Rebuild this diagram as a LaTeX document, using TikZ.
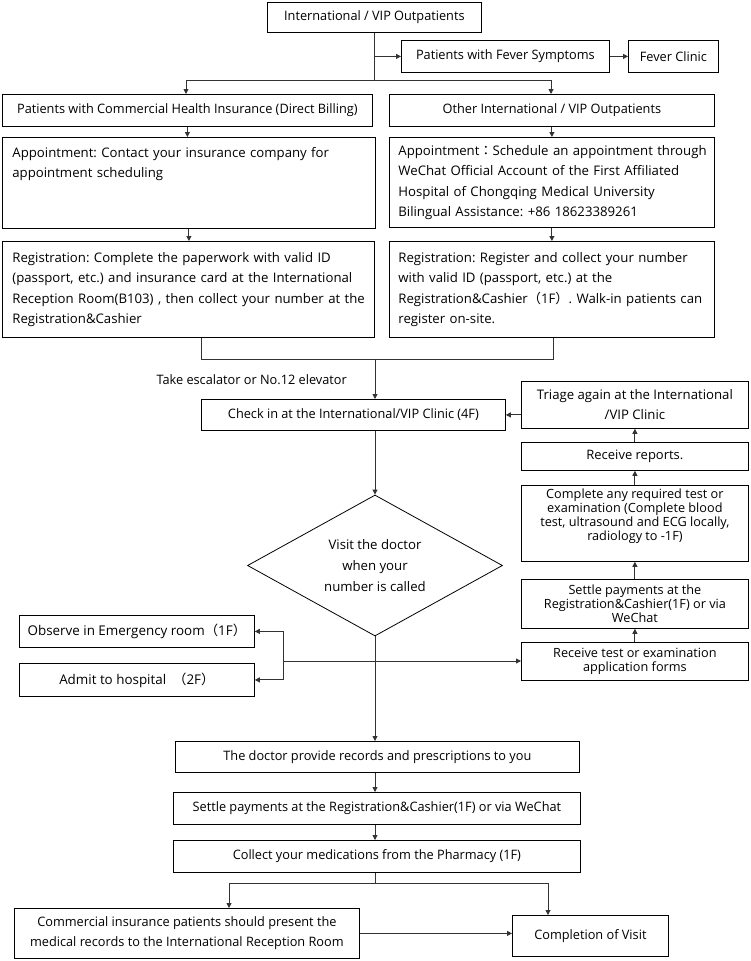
\documentclass[tikz,border=0pt]{standalone}
\usepackage{fontspec}
\setmainfont{Open Sans}
\newfontfamily\condf[FakeStretch=0.98]{Open Sans}
\newfontfamily\cjk{Noto Sans CJK TC}
\usetikzlibrary{arrows.meta,shapes.geometric}
\frenchspacing
\tikzset{
  box/.style={draw=black, line width=0.8pt, anchor=north west, inner sep=0pt, align=center,
    font=\condf\fontsize{13}{15}\selectfont},
  lbox/.style={box, align=left, font=\frenchspacing\fontsize{13.2}{20.5}\selectfont},
  rbox/.style={box, font=\fontsize{12.7}{14}\selectfont},
  mbox/.style={box, font=\fontsize{13.4}{15}\selectfont},
  arr/.style={-{Triangle[length=5pt,width=5pt]}, line width=0.9pt, draw=black!80},
  ln/.style={line width=0.9pt, draw=black!80},
  lbl/.style={inner sep=0pt, font=\condf\fontsize{13}{15}\selectfont}
}
\begin{document}
\begin{tikzpicture}[x=1pt,y=-1pt]
\useasboundingbox (0,0) rectangle (750,961);
% top
\node[box, minimum width=214pt, minimum height=30pt] (top) at (267,2) {International / VIP Outpatients};
\node[box, minimum width=208pt, minimum height=32pt] (fever) at (401,40) {Patients with Fever Symptoms};
\node[box, minimum width=90pt, minimum height=32pt] (fclinic) at (628,40) {Fever Clinic};
\node[box, minimum width=370pt, minimum height=32pt] (lhdr) at (2,94) {Patients with Commercial Health Insurance (Direct Billing)};
\node[box, minimum width=325pt, minimum height=32pt] (rhdr) at (389,94) {Other International / VIP Outpatients};
% appointment / registration
\node[lbox, minimum width=373pt, minimum height=91pt, text width=353pt] (lappt) at (2,137) {\mbox{Appointment: Contact your insurance company for}\\\mbox{appointment scheduling}\\ ~\\ ~};
\node[lbox, minimum width=325pt, minimum height=90pt, text width=307pt] (rappt) at (389,137) {\mbox{Appointment{\cjk ：}Schedule an appointment through}\\\mbox{WeChat Official Account of the First Affiliated}\\\mbox{Hospital of Chongqing Medical University}\\\mbox{Bilingual Assistance: +86 18623389261}};
\node[lbox, minimum width=372pt, minimum height=96pt, text width=352pt] (lreg) at (2,241) {\mbox{Registration: Complete the paperwork with valid ID}\\\mbox{(passport, etc.) and insurance card at the International}\\\mbox{Reception Room(B103) , then collect your number at the}\\\mbox{Registration\&Cashier}};
\node[lbox, minimum width=325pt, minimum height=96pt, text width=307pt] (rreg) at (389,241) {\mbox{Registration: Register and collect your number}\\\mbox{with valid ID (passport, etc.) at the}\\\mbox{Registration\&Cashier{\cjk （}1F{\cjk ）}. Walk-in patients can}\\\mbox{register on-site.}};
% check in and loop
\node[box, minimum width=304pt, minimum height=31pt] (checkin) at (201,399) {Check in at the International/VIP Clinic (4F)};
\node[lbl, anchor=east] (esc) at (347,380) {Take escalator or No.12 elevator};
\node[rbox, minimum width=227pt, minimum height=47pt, font=\fontsize{13.2}{20}\selectfont] (triage) at (521,381) {Triage again at the International\\/VIP Clinic};
\node[rbox, minimum width=227pt, minimum height=28pt, font=\fontsize{13}{15}\selectfont] (reports) at (521,442) {Receive reports.};
\node[rbox, minimum width=227pt, minimum height=76pt] (complete) at (521,485) {Complete any required test or\\examination (Complete blood\\test, ultrasound and ECG locally,\\radiology to -1F)\\[4pt]};
\node[rbox, minimum width=227pt, minimum height=49pt] (settleR) at (521,579) {Settle payments at the\\Registration\&Cashier(1F) or via\\WeChat};
\node[rbox, minimum width=227pt, minimum height=38pt] (forms) at (521,642) {Receive test or examination\\application forms};
% diamond
\node[draw=black, line width=0.8pt, diamond, shape aspect=1.8, minimum width=255pt, minimum height=141pt, inner sep=0pt, align=center, font=\fontsize{13.2}{21}\selectfont] (visit) at (375,565.5) {Visit the doctor\\when your\\number is called};
\node[mbox, minimum width=235pt, minimum height=32pt] (observe) at (19,615) {Observe in Emergency room{\cjk （}1F{\cjk ）}};
\node[mbox, minimum width=235pt, minimum height=33pt] (admit) at (19,663) {Admit to hospital\ \ {\cjk （}2F{\cjk ）}};
% bottom
\node[box, minimum width=404pt, minimum height=31pt] (doctor) at (175,741) {The doctor provide records and prescriptions to you};
\node[box, minimum width=407pt, minimum height=32pt] (settleB) at (173,792) {Settle payments at the Registration\&Cashier(1F) or via WeChat};
\node[box, minimum width=407pt, minimum height=32pt] (collect) at (173,840) {Collect your medications from the Pharmacy (1F)};
\node[box, minimum width=345pt, minimum height=50pt, font=\condf\fontsize{13}{20}\selectfont] (commercial) at (14,908) {Commercial insurance patients should present the\\medical records to the International Reception Room};
\node[box, minimum width=156pt, minimum height=41pt] (completion) at (512,915) {Completion of Visit};
% coordinates
\coordinate (b1) at (375,80);
\coordinate (bl) at (186,80);
\coordinate (br) at (551,80);
\coordinate (m1) at (201,359);
\coordinate (m2) at (553,359);
\coordinate (mc) at (375,359);
\coordinate (h1) at (283,661);
\coordinate (c1) at (375,883);
\coordinate (cl) at (229,883);
\coordinate (cr) at (548,883);
% connectors
\draw[ln] (top.south) -- (top.south |- b1);
\draw[ln] (bl) -- (br);
\draw[arr] (top.south |- fever.west) -- (fever.west);
\draw[arr] (fever.east) -- (fclinic.west);
\draw[arr] (bl) -- (bl |- lhdr.north);
\draw[arr] (br) -- (br |- rhdr.north);
\draw[arr] (lhdr.south) -- (lhdr.south |- lappt.north);
\draw[arr] (rhdr.south) -- (rhdr.south |- rappt.north);
\draw[arr] (lappt.south) -- (lappt.south |- lreg.north);
\draw[arr] (rappt.south) -- (rappt.south |- rreg.north);
\draw[ln] (m1 |- lreg.south) -- (m1) -- (m2) -- (m2 |- rreg.south);
\draw[arr] (mc) -- (mc |- checkin.north);
\draw[arr] (mc |- checkin.south) -- (visit.north);
\draw[arr] (visit.south) -- (visit.south |- doctor.north);
\draw[arr] (h1) -- (h1 -| forms.west);
\draw[ln] (h1 |- observe.east) -- (h1 |- admit.east);
\draw[arr] (h1 |- observe.east) -- (observe.east);
\draw[arr] (h1 |- admit.east) -- (admit.east);
\draw[arr] (forms.north) -- (settleR.south);
\draw[arr] (settleR.north) -- (complete.south);
\draw[arr] (complete.north) -- (reports.south);
\draw[arr] (reports.north) -- (triage.south);
\draw[arr] (triage.west |- checkin.east) -- (checkin.east);
\draw[arr] (visit.south |- doctor.south) -- (visit.south |- settleB.north);
\draw[arr] (visit.south |- settleB.south) -- (visit.south |- collect.north);
\draw[ln] (c1 |- collect.south) -- (c1);
\draw[ln] (cl) -- (cr);
\draw[arr] (cl) -- (cl |- commercial.north);
\draw[arr] (cr) -- (cr |- completion.north);
\draw[arr] (commercial.east) -- (commercial.east -| completion.west);
\end{tikzpicture}
\end{document}
